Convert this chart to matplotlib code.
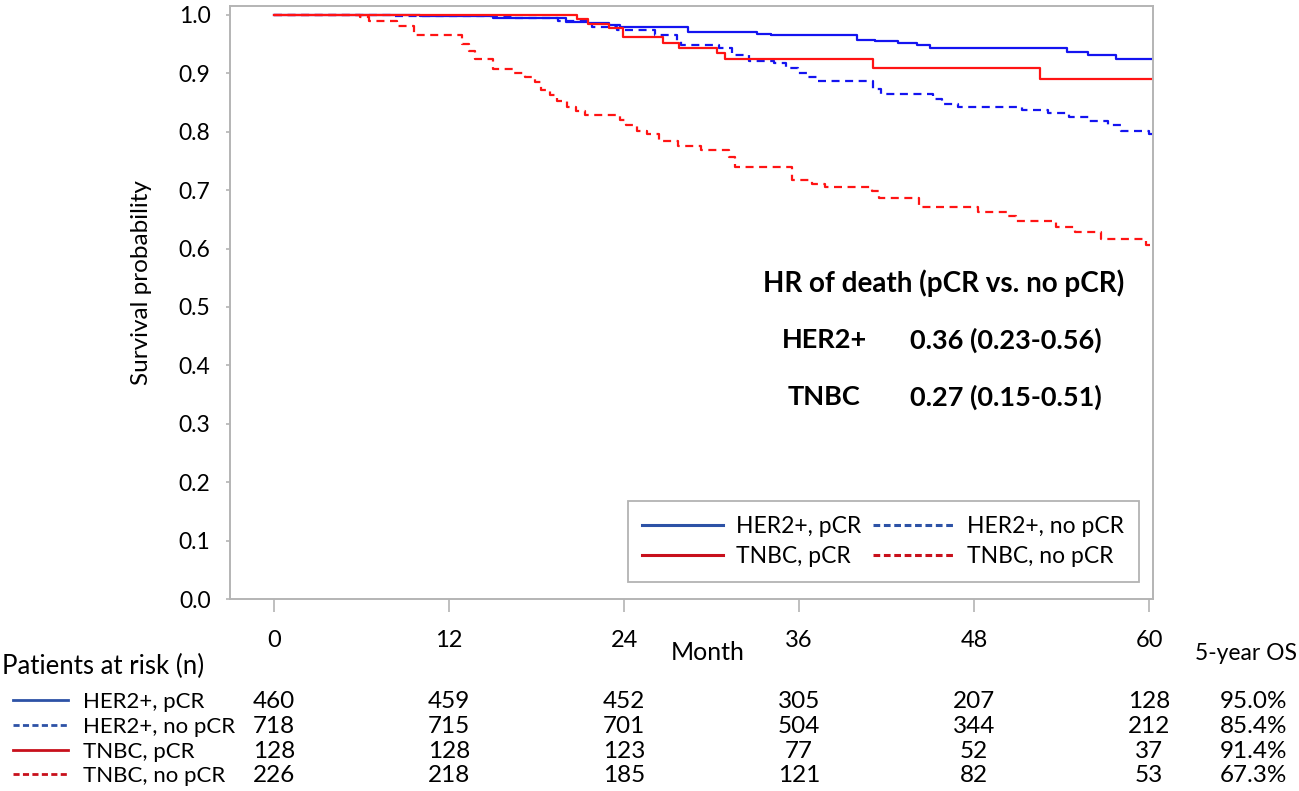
import matplotlib
matplotlib.use("Agg")
import matplotlib.pyplot as plt
from matplotlib.lines import Line2D
from matplotlib.transforms import blended_transform_factory

plt.rcParams['font.family'] = ['Lato', 'DejaVu Sans']

# ---------------- data ----------------
her2_pcr_t = [0, 10.0, 15.0, 20.0, 21.5, 23.0, 23.7, 28.4, 33.1, 34.1, 40.0, 41.2,
              42.8, 44.1, 45.0, 54.4, 55.8, 57.7]
her2_pcr_s = [1.0, 0.998, 0.995, 0.988, 0.986, 0.983, 0.980, 0.971, 0.968, 0.965,
              0.958, 0.956, 0.952, 0.949, 0.943, 0.937, 0.931, 0.924]

her2_nopcr_t = [0, 8.0, 16.5, 19.5, 21.8, 23.5, 26.1, 27.6, 27.9, 30.5, 31.4, 32.6,
                34.3, 35.1, 35.9, 36.6, 37.2, 41.1, 41.6, 45.2, 45.8, 46.9, 51.3,
                53.1, 54.5, 55.9, 57.2, 58.1, 60.0]
her2_nopcr_s = [1.0, 0.998, 0.995, 0.990, 0.979, 0.975, 0.966, 0.956, 0.949, 0.943,
                0.932, 0.922, 0.917, 0.909, 0.901, 0.893, 0.887, 0.873, 0.865, 0.856,
                0.848, 0.843, 0.837, 0.832, 0.826, 0.819, 0.811, 0.802, 0.797]

tnbc_pcr_t = [0, 20.8, 21.5, 23.0, 23.9, 26.7, 27.8, 30.4, 30.9, 41.1, 52.5]
tnbc_pcr_s = [1.0, 0.993, 0.985, 0.978, 0.962, 0.952, 0.943, 0.935, 0.924, 0.909, 0.890]

tnbc_nopcr_t = [0, 5.9, 6.5, 8.4, 9.6, 12.9, 13.4, 13.8, 15.0, 16.4, 17.2, 17.9, 18.3,
                18.9, 19.4, 20.1, 20.7, 21.3, 23.7, 24.1, 24.9, 25.6, 26.4, 27.7, 29.3,
                31.2, 31.6, 35.5, 36.9, 37.8, 41.0, 41.5, 44.2, 48.3, 50.3, 50.9, 53.6,
                54.9, 56.7, 59.8]
tnbc_nopcr_s = [1.0, 0.997, 0.990, 0.981, 0.965, 0.950, 0.939, 0.924, 0.907, 0.900,
                0.893, 0.885, 0.871, 0.863, 0.853, 0.842, 0.836, 0.829, 0.820, 0.811,
                0.801, 0.796, 0.785, 0.776, 0.769, 0.756, 0.739, 0.717, 0.711, 0.705,
                0.698, 0.687, 0.671, 0.663, 0.655, 0.647, 0.637, 0.628, 0.616, 0.606]

follow_up_end = 60.3

group_labels = ["HER2+, pCR", "HER2+, no pCR", "TNBC, pCR", "TNBC, no pCR"]
risk_months = [0, 12, 24, 36, 48, 60]
at_risk = [
    [460, 459, 452, 305, 207, 128],
    [718, 715, 701, 504, 344, 212],
    [128, 128, 123, 77, 52, 37],
    [226, 218, 185, 121, 82, 53],
]
five_year_os = ["95.0%", "85.4%", "91.4%", "67.3%"]
y_ticks = [0.0, 0.1, 0.2, 0.3, 0.4, 0.5, 0.6, 0.7, 0.8, 0.9, 1.0]

hr_title = "HR of death (pCR vs. no pCR)"
hr_groups = ["HER2+", "TNBC"]
hr_values = ["0.36 (0.23-0.56)", "0.27 (0.15-0.51)"]

# ---------------- styling ----------------
BLUE = '#1414F0'
RED = '#FF1414'
LBLUE = '#2D52A6'
LRED = '#C8101C'
DASH = (0, (3.6, 2.5))
LDASH = (0, (2.2, 1.2))
GRAY = '#B4B4B4'

W, H = 1299, 791
fig = plt.figure(figsize=(W / 100, H / 100), dpi=100)
ax = fig.add_axes([230 / W, 1 - 599 / H, (1153 - 230) / W, (599 - 6) / H])

series = [
    (her2_pcr_t, her2_pcr_s, BLUE, '-'),
    (her2_nopcr_t, her2_nopcr_s, BLUE, DASH),
    (tnbc_pcr_t, tnbc_pcr_s, RED, '-'),
    (tnbc_nopcr_t, tnbc_nopcr_s, RED, DASH),
]
for t, s, c, ls in series:
    ax.step(list(t) + [follow_up_end], list(s) + [s[-1]], where='post',
            color=c, lw=1.6, linestyle=ls)

ax.set_xlim(-3.02, 60.27)
ax.set_ylim(0, 1.0154)
ax.set_xticks(risk_months)
ax.set_xticklabels([str(m) for m in risk_months], fontsize=17)
ax.set_yticks(y_ticks)
ax.set_yticklabels([f"{v:.1f}" for v in y_ticks], fontsize=16.5)
ax.tick_params(axis='x', direction='out', length=9, width=1.2, color=GRAY, pad=13)
ax.tick_params(axis='y', direction='out', length=3, width=1.2, color=GRAY, pad=11)
for sp in ax.spines.values():
    sp.set_color(GRAY)
    sp.set_linewidth(1.4)

fig.text(142 / W, 1 - 283 / H, "Survival probability", rotation=90,
         ha='center', va='center', fontsize=17.5)

# HR annotation
fig.text(944 / W, 1 - 283 / H, hr_title, ha='center', va='center',
         fontsize=20, fontweight='bold')
for i, (g, v) in enumerate(zip(hr_groups, hr_values)):
    yy = 1 - (340 + 57 * i) / H
    fig.text(824 / W, yy, g, ha='center', va='center', fontsize=19.5, fontweight='bold')
    fig.text(910 / W, yy, v, ha='left', va='center', fontsize=19.5, fontweight='bold')

# Legend inside plot
handles = [
    Line2D([], [], color=LBLUE, lw=2.2, linestyle='-'),
    Line2D([], [], color=LRED, lw=2.2, linestyle='-'),
    Line2D([], [], color=LBLUE, lw=2.2, linestyle=LDASH),
    Line2D([], [], color=LRED, lw=2.2, linestyle=LDASH),
]
labels = [group_labels[0], group_labels[2], group_labels[1], group_labels[3]]
leg = ax.legend(handles, labels, ncol=2, loc='lower right',
                bbox_to_anchor=((1139 - 230) / 923, (599 - 582) / 593),
                borderaxespad=0, fontsize=16.5, frameon=True, fancybox=False,
                handlelength=3.5, handletextpad=0.6, columnspacing=0.5,
                labelspacing=0.4, borderpad=0.65)
leg.get_frame().set_edgecolor('#A0A0A0')
leg.get_frame().set_linewidth(1.3)

# Axis title and risk table
fig.text(708 / W, 1 - 660 / H, "Month", ha='center', va='baseline', fontsize=18)
fig.text(1246 / W, 1 - 660 / H, "5-year OS", ha='center', va='baseline', fontsize=16.5)
fig.text(2 / W, 1 - 674 / H, "Patients at risk (n)", ha='left', va='baseline', fontsize=18.5)

tr = blended_transform_factory(ax.transData, fig.transFigure)
row_base = [708, 733, 757.5, 782]
row_col = [LBLUE, LBLUE, LRED, LRED]
row_ls = ['-', LDASH, '-', LDASH]
for r in range(4):
    yb = 1 - row_base[r] / H
    yl = 1 - (row_base[r] - 8) / H
    fig.add_artist(Line2D([13 / W, 68 / W], [yl, yl], transform=fig.transFigure,
                          color=row_col[r], lw=2.0, linestyle=row_ls[r]))
    fig.text(83 / W, yb, group_labels[r], ha='left', va='baseline', fontsize=16)
    for m, n in zip(risk_months, at_risk[r]):
        ax.text(m, yb, str(n), transform=tr, ha='center', va='baseline', fontsize=17.5)
    fig.text(1287 / W, yb, five_year_os[r], ha='right', va='baseline', fontsize=17.5)

fig.savefig("out.png", dpi=100)
